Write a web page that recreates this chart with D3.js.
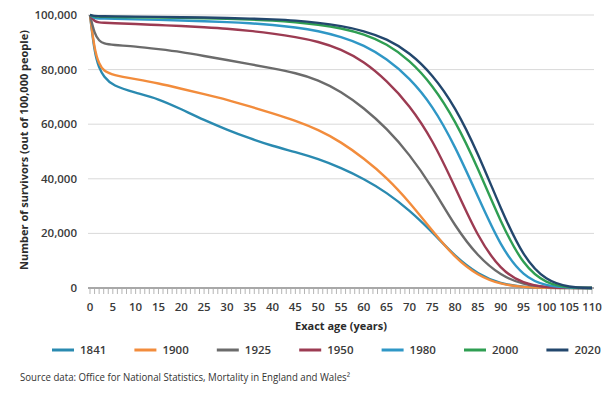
<!DOCTYPE html>
<html lang="en">
<head>
  <meta charset="utf-8">
  <title>Survivors by exact age</title>
  <script src="https://d3js.org/d3.v7.min.js"></script>
  <style>
    body { margin: 0; background: #fff; }
    svg { display: block; font-family: "Open Sans", sans-serif; }
  </style>
</head>
<body>
  <svg id="chart" width="608" height="397"></svg>
  <script>
    const ages = [0, 1, 2, 3, 5, 10, 15, 20, 25, 30, 35, 40, 45, 50, 55, 60, 65, 70, 75, 80, 85, 90, 95, 100, 105, 110];

    // survivors per 100,000, in thousands
    const s1841 = [100, 86, 80.5, 77.5, 74, 71.5, 69.3, 65.5, 61.5, 58, 54.8, 52, 49.8, 47.3, 44, 40, 35, 28.5, 20.5, 11.5, 5, 1.5, 0.3, 0, 0, 0];
    const s1900 = [100, 87, 82, 79.5, 78, 76.5, 75, 73, 71, 69, 66.5, 64, 61.3, 58, 53.5, 47.5, 40.5, 31.5, 21, 11, 4.5, 1.3, 0.3, 0, 0, 0];
    const s1925 = [100, 93, 90.5, 89.5, 89, 88.5, 87.5, 86.5, 85, 83.5, 82, 80.5, 78.8, 76.3, 72, 66, 58.5, 49, 37, 22.5, 11.5, 4.5, 1.2, 0.2, 0, 0];
    const s1950 = [100, 97.5, 97.3, 97.2, 97, 96.7, 96.3, 96, 95.5, 95, 94.2, 93.2, 92, 90.3, 87.5, 83, 76, 67, 54.5, 37, 18.5, 6.5, 1.5, 0.2, 0, 0];
    const s1980 = [100, 98.8, 98.7, 98.7, 98.6, 98.4, 98.2, 98, 97.7, 97.4, 97, 96.4, 95.5, 94.2, 92, 89, 84, 77, 67, 52, 33.5, 15, 4, 0.7, 0.05, 0];
    const s2000 = [100, 99.4, 99.4, 99.3, 99.3, 99.2, 99.1, 99, 98.8, 98.6, 98.3, 98, 97.4, 96.5, 95.2, 93, 89.5, 83.5, 74.5, 61.5, 44, 24, 8, 1.5, 0.1, 0];
    const s2020 = [100, 99.6, 99.6, 99.5, 99.5, 99.4, 99.3, 99.2, 99.1, 98.9, 98.7, 98.4, 98, 97.2, 96, 94.2, 91.3, 86.3, 78.3, 66.5, 49.5, 29, 11, 2.5, 0.2, 0];

    const years = ["1841", "1900", "1925", "1950", "1980", "2000", "2020"];
    const values = [s1841, s1900, s1925, s1950, s1980, s2000, s2020];
    const colors = ["#2a8ab0", "#f28c3c", "#6b6b6b", "#9c3b52", "#2f97c6", "#2f9e52", "#23476d"];

    const yTicks = [0, 20000, 40000, 60000, 80000, 100000];

    const svg = d3.select("#chart");

    const x = d3.scaleLinear().domain([0, 110]).range([90, 592]);
    const y = d3.scaleLinear().domain([0, 100000]).range([288, 15]);

    // horizontal gridlines
    svg.append("g")
      .selectAll("line")
      .data(yTicks.filter(d => d > 0))
      .join("line")
      .attr("x1", 88).attr("x2", 594)
      .attr("y1", d => y(d)).attr("y2", d => y(d))
      .attr("stroke", "#d9d9d9")
      .attr("stroke-width", 1);

    // y labels
    svg.append("g")
      .selectAll("text")
      .data(yTicks)
      .join("text")
      .attr("x", 77)
      .attr("y", d => y(d))
      .attr("dy", "0.35em")
      .attr("text-anchor", "end")
      .attr("font-size", 11.5)
      .attr("font-weight", 600)
      .attr("fill", "#3a3a3a")
      .text(d => d3.format(",")(d));

    // x axis: yearly ticks, labels every 5
    const xAxis = svg.append("g").attr("transform", "translate(0,288)");
    xAxis.selectAll("line.tick")
      .data(d3.range(0, 111))
      .join("line")
      .attr("class", "tick")
      .attr("x1", d => x(d)).attr("x2", d => x(d))
      .attr("y1", 1).attr("y2", 6)
      .attr("stroke", "#b5b5b5")
      .attr("stroke-width", 1);
    xAxis.append("line")
      .attr("x1", 88).attr("x2", 594)
      .attr("stroke", "#a8a8a8")
      .attr("stroke-width", 2);
    xAxis.selectAll("text")
      .data(d3.range(0, 111, 5))
      .join("text")
      .attr("x", d => x(d))
      .attr("y", 19)
      .attr("dy", "0.35em")
      .attr("text-anchor", "middle")
      .attr("font-size", 11.5)
      .attr("font-weight", 600)
      .attr("fill", "#3a3a3a")
      .text(d => d);

    // axis titles
    svg.append("text")
      .attr("x", 341).attr("y", 326)
      .attr("dy", "0.35em")
      .attr("text-anchor", "middle")
      .attr("font-size", 11)
      .attr("font-weight", 700)
      .attr("fill", "#2b2b2b")
      .text("Exact age (years)");

    svg.append("text")
      .attr("transform", "translate(24,150) rotate(-90)")
      .attr("dy", "0.35em")
      .attr("text-anchor", "middle")
      .attr("font-size", 11)
      .attr("font-weight", 700)
      .attr("fill", "#2b2b2b")
      .text("Number of survivors (out of 100,000 people)");

    // curves
    const line = d3.line()
      .x((d, i) => x(ages[i]))
      .y(d => y(d * 1000))
      .curve(d3.curveBasis);

    svg.append("g")
      .selectAll("path")
      .data(values)
      .join("path")
      .attr("d", d => line(d))
      .attr("fill", "none")
      .attr("stroke", (d, i) => colors[i])
      .attr("stroke-width", 2.4)
      .attr("stroke-linejoin", "round");

    // legend
    const legend = svg.append("g").attr("transform", "translate(52,350)")
      .selectAll("g")
      .data(years)
      .join("g")
      .attr("transform", (d, i) => `translate(${i * 82.4},0)`);
    legend.append("line")
      .attr("x1", 0).attr("x2", 22)
      .attr("stroke", (d, i) => colors[i])
      .attr("stroke-width", 3);
    legend.append("text")
      .attr("x", 28)
      .attr("dy", "0.35em")
      .attr("font-size", 11.5)
      .attr("font-weight", 600)
      .attr("fill", "#3a3a3a")
      .text(d => d);

    // source note
    svg.append("text")
      .attr("x", 20).attr("y", 377)
      .attr("dy", "0.35em")
      .attr("font-size", 10.5)
      .attr("fill", "#333")
      .attr("textLength", 330)
      .attr("lengthAdjust", "spacingAndGlyphs")
      .text("Source data: Office for National Statistics, Mortality in England and Wales\u00b2");
  </script>
</body>
</html>
